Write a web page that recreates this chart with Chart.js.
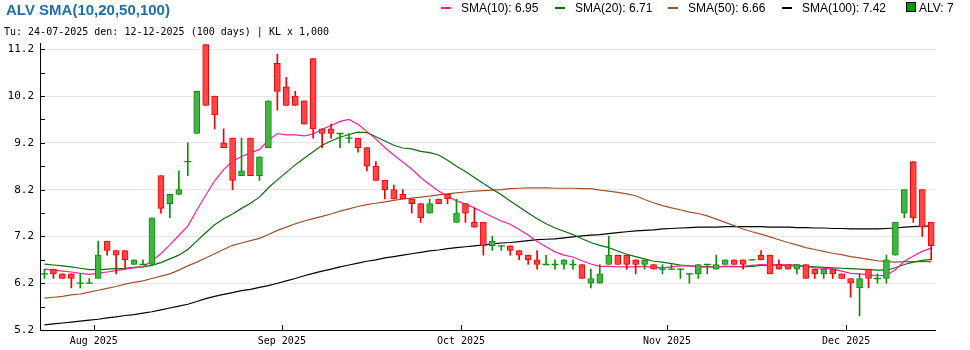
<!DOCTYPE html>
<html>
<head>
<meta charset="utf-8">
<script src="https://cdn.jsdelivr.net/npm/chart.js@4.4.1/dist/chart.umd.min.js"></script>
<style>
html,body{margin:0;padding:0;background:#fff;}
#wrap{position:relative;width:970px;height:350px;overflow:hidden;background:#fff;}
#c{position:absolute;left:0;top:0;}
#title{position:absolute;left:6px;top:2px;font:bold 15px "Liberation Sans",Arial,sans-serif;line-height:15px;color:#1e6fa8;white-space:nowrap;}
#sub{position:absolute;left:4px;top:27px;font:10px "DejaVu Sans Mono",monospace;line-height:10px;color:#000;white-space:nowrap;}
.lg{position:absolute;top:2px;font:12px "Liberation Sans",Arial,sans-serif;line-height:12px;color:#000;white-space:nowrap;}
.mk{position:absolute;}
</style>
</head>
<body>
<div id="wrap">
<canvas id="c" width="970" height="350"></canvas>
<div id="title"></div>
<div id="sub"></div>
</div>
<script>
// ---------------- data ----------------
const symbol = 'ALV';
const dates = [
'2025-07-24','2025-07-25','2025-07-28','2025-07-29','2025-07-30','2025-07-31',
'2025-08-01','2025-08-04','2025-08-05','2025-08-06','2025-08-07','2025-08-08','2025-08-11','2025-08-12','2025-08-13','2025-08-14','2025-08-15','2025-08-18','2025-08-19','2025-08-20','2025-08-21','2025-08-22','2025-08-25','2025-08-26','2025-08-27','2025-08-28','2025-08-29',
'2025-09-03','2025-09-04','2025-09-05','2025-09-08','2025-09-09','2025-09-10','2025-09-11','2025-09-12','2025-09-15','2025-09-16','2025-09-17','2025-09-18','2025-09-19','2025-09-22','2025-09-23','2025-09-24','2025-09-25','2025-09-26','2025-09-29','2025-09-30',
'2025-10-01','2025-10-02','2025-10-03','2025-10-06','2025-10-07','2025-10-08','2025-10-09','2025-10-10','2025-10-13','2025-10-14','2025-10-15','2025-10-16','2025-10-17','2025-10-20','2025-10-21','2025-10-22','2025-10-23','2025-10-24','2025-10-27','2025-10-28','2025-10-29','2025-10-30','2025-10-31',
'2025-11-03','2025-11-04','2025-11-05','2025-11-06','2025-11-07','2025-11-10','2025-11-11','2025-11-12','2025-11-13','2025-11-14','2025-11-17','2025-11-18','2025-11-19','2025-11-20','2025-11-21','2025-11-24','2025-11-25','2025-11-26','2025-11-27','2025-11-28',
'2025-12-01','2025-12-02','2025-12-03','2025-12-04','2025-12-05','2025-12-08','2025-12-09','2025-12-10','2025-12-11','2025-12-12'
];
const opens = [6.4,6.5,6.4,6.4,6.2,6.2,6.3,7.1,6.9,6.9, 6.6,6.6,6.6,8.5,7.9,8.1,8.8,9.4,11.3,10.2,
  9.2,9.3,8.5,9.3,8.5,9.1,10.9,10.4,10.2,10.1, 11.0,9.5,9.5,9.4,9.3,9.3,9.1,8.7,8.4,8.2,
  8.1,8.0,7.9,7.7,8.0,8.1,7.5,7.9,7.5,7.5, 7.0,7.0,7.0,6.9,6.8,6.7,6.6,6.6,6.6,6.6,
  6.6,6.2,6.2,6.6,6.8,6.8,6.7,6.6,6.6,6.5, 6.5,6.5,6.4,6.4,6.6,6.5,6.6,6.7,6.7,6.7,
  6.8,6.8,6.6,6.6,6.5,6.6,6.5,6.4,6.5,6.4, 6.3,6.1,6.5,6.3,6.3,6.8,7.7,8.8,8.2,7.5];
const highs = [6.5,6.5,6.4,6.4,6.4,6.3,7.1,7.1,6.9,6.9, 6.7,6.7,7.6,8.5,8.1,8.6,9.2,10.3,11.3,10.2,
  9.5,9.3,9.3,9.3,8.9,10.1,11.1,10.6,10.3,10.1, 11.0,9.5,9.6,9.4,9.4,9.3,9.1,8.8,8.4,8.3,
  8.2,8.0,7.9,8.0,8.0,8.1,8.0,7.9,7.8,7.5, 7.2,7.0,7.0,6.9,6.8,6.9,6.8,6.7,6.7,6.7,
  6.6,6.5,6.6,7.2,6.8,6.8,6.7,6.7,6.6,6.6, 6.6,6.5,6.4,6.6,6.6,6.8,6.7,6.7,6.7,6.7,
  6.9,6.8,6.7,6.6,6.6,6.6,6.5,6.5,6.5,6.4, 6.3,6.4,6.5,6.4,6.8,7.5,8.2,8.8,8.2,7.5];
const lows = [6.3,6.3,6.3,6.1,6.1,6.2,6.3,6.8,6.4,6.5, 6.6,6.6,6.6,7.7,7.6,8.1,8.5,9.4,10.0,9.5,
  9.1,8.2,8.5,8.5,8.4,9.1,9.9,10.0,10.0,9.6, 9.3,9.1,9.3,9.1,9.2,9.0,8.6,8.4,8.0,8.0,
  8.0,7.7,7.5,7.7,7.9,7.9,7.5,7.5,7.4,6.8, 6.9,6.9,6.8,6.7,6.6,6.5,6.6,6.5,6.5,6.5,
  6.3,6.1,6.2,6.6,6.6,6.5,6.4,6.5,6.5,6.4, 6.5,6.3,6.2,6.3,6.4,6.5,6.6,6.6,6.5,6.7,
  6.7,6.4,6.5,6.5,6.4,6.3,6.3,6.3,6.3,6.3, 5.9,5.5,6.1,6.2,6.2,6.8,7.6,7.5,7.2,6.7];
const closes = [6.4,6.4,6.3,6.3,6.2,6.2,6.8,6.9,6.8,6.7, 6.7,6.6,7.6,7.8,8.1,8.2,8.8,10.3,10.0,9.8,
  9.1,8.4,8.6,8.5,8.9,10.1,10.3,10.0,10.0,9.6, 9.5,9.4,9.4,9.4,9.3,9.1,8.7,8.4,8.2,8.0,
  8.0,7.9,7.6,7.9,7.9,8.0,7.7,7.7,7.4,7.0, 7.1,7.0,6.9,6.8,6.7,6.6,6.6,6.6,6.7,6.6,
  6.3,6.3,6.4,6.8,6.6,6.6,6.6,6.7,6.5,6.5, 6.5,6.5,6.4,6.6,6.6,6.6,6.7,6.6,6.6,6.7,
  6.7,6.4,6.5,6.5,6.6,6.3,6.4,6.5,6.4,6.3, 6.2,6.3,6.3,6.3,6.7,7.5,8.2,7.6,7.4,7.0];
const sma10 = [6.50,6.48,6.46,6.44,6.41,6.39,6.41,6.44,6.47,6.50, 6.53,6.55,6.68,6.83,7.02,7.22,7.42,7.76,8.08,8.39,
  8.63,8.81,8.91,8.98,9.06,9.25,9.40,9.37,9.37,9.35, 9.39,9.49,9.57,9.66,9.70,9.60,9.44,9.28,9.10,8.94,
  8.79,8.64,8.46,8.31,8.17,8.06,7.96,7.89,7.81,7.71, 7.62,7.53,7.46,7.35,7.23,7.09,6.98,6.87,6.80,6.76,
  6.68,6.61,6.56,6.56,6.55,6.55,6.55,6.56,6.54,6.53, 6.55,6.57,6.57,6.55,6.55,6.55,6.56,6.55,6.56,6.58,
  6.60,6.59,6.60,6.59,6.59,6.56,6.53,6.52,6.50,6.46, 6.41,6.40,6.38,6.36,6.37,6.49,6.67,6.78,6.88,6.95];
const sma20 = [6.61,6.59,6.57,6.55,6.52,6.49,6.49,6.50,6.51,6.52, 6.54,6.55,6.58,6.64,6.72,6.80,6.92,7.10,7.28,7.45,
  7.58,7.68,7.80,7.91,8.04,8.24,8.41,8.57,8.73,8.87, 9.01,9.15,9.24,9.32,9.38,9.43,9.42,9.33,9.24,9.15,
  9.09,9.07,9.02,8.99,8.94,8.83,8.70,8.59,8.46,8.33, 8.21,8.09,7.96,7.83,7.70,7.58,7.47,7.38,7.31,7.24,
  7.15,7.07,7.01,6.96,6.89,6.82,6.77,6.72,6.67,6.65, 6.62,6.59,6.57,6.56,6.55,6.55,6.56,6.56,6.55,6.56,
  6.58,6.58,6.59,6.57,6.57,6.56,6.55,6.54,6.53,6.52, 6.51,6.50,6.49,6.48,6.48,6.53,6.60,6.65,6.69,6.71];
const sma50 = [5.88,5.90,5.92,5.95,5.97,6.01,6.05,6.09,6.13,6.18, 6.22,6.25,6.30,6.35,6.40,6.48,6.57,6.65,6.74,6.83,
  6.92,7.01,7.06,7.11,7.16,7.24,7.33,7.40,7.47,7.53, 7.58,7.63,7.68,7.74,7.79,7.84,7.88,7.91,7.94,7.97,
  8.00,8.02,8.04,8.06,8.09,8.11,8.13,8.15,8.17,8.18, 8.19,8.20,8.22,8.23,8.24,8.24,8.24,8.23,8.23,8.23,
  8.22,8.22,8.19,8.17,8.14,8.11,8.07,7.99,7.92,7.86, 7.81,7.77,7.72,7.69,7.64,7.57,7.50,7.43,7.36,7.30,
  7.25,7.19,7.13,7.07,7.02,6.96,6.92,6.88,6.84,6.81, 6.77,6.74,6.71,6.68,6.66,6.65,6.66,6.66,6.66,6.66];
const sma100 = [5.31,5.33,5.35,5.37,5.39,5.41,5.43,5.46,5.48,5.51, 5.53,5.56,5.59,5.63,5.67,5.71,5.75,5.81,5.87,5.92,
  5.96,6.00,6.04,6.07,6.11,6.15,6.20,6.25,6.30,6.36, 6.41,6.46,6.50,6.55,6.59,6.63,6.67,6.70,6.74,6.77,
  6.80,6.83,6.86,6.89,6.91,6.94,6.96,6.98,7.00,7.02, 7.04,7.06,7.07,7.09,7.11,7.13,7.14,7.15,7.17,7.19,
  7.21,7.23,7.24,7.26,7.28,7.30,7.32,7.33,7.34,7.36, 7.37,7.38,7.39,7.40,7.40,7.40,7.41,7.41,7.41,7.41,
  7.41,7.40,7.40,7.40,7.39,7.39,7.38,7.38,7.37,7.37, 7.36,7.36,7.36,7.36,7.37,7.38,7.40,7.41,7.42,7.42];
const seriesNames = ['SMA(10)','SMA(20)','SMA(50)','SMA(100)'];
const yTickValues = [5.2,5.7,6.2,6.7,7.2,7.7,8.2,8.7,9.2,9.7,10.2,10.7,11.2];
const yLabelValues = [5.2,6.2,7.2,8.2,9.2,10.2,11.2];
const monthNames = ['Jan','Feb','Mar','Apr','May','Jun','Jul','Aug','Sep','Oct','Nov','Dec'];

// ---------------- styles ----------------
const MONO = "'DejaVu Sans Mono', monospace";
const UP_FILL = '#43b443', UP_LINE = '#0b8f0b';
const DN_FILL = '#ff4646', DN_LINE = '#f00000';
const LINE_COLORS = ['#ff1ca0', '#0d6e0d', '#a0522d', '#000000'];

// ---------------- derived ----------------
const n = closes.length;
const isUp = i => closes[i] >= opens[i];
const xTicks = [];
for (let i = 1; i < n; i++) {
  if (dates[i].slice(0, 7) !== dates[i - 1].slice(0, 7)) {
    xTicks.push({ value: i - 0.5, label: monthNames[+dates[i].slice(5, 7) - 1] + ' ' + dates[i].slice(0, 4) });
  }
}
const fmtDate = d => d.slice(8, 10) + '-' + d.slice(5, 7) + '-' + d.slice(0, 4);

document.getElementById('title').textContent = symbol + ' SMA(10,20,50,100)';
document.getElementById('sub').textContent = 'Tu: ' + fmtDate(dates[0]) + ' den: ' + fmtDate(dates[n - 1]) + ' (' + n + ' days) | KL x 1,000';

// legend
const smaSeries = [sma10, sma20, sma50, sma100];
const legendLeft = [441, 555, 668, 782];
const wrap = document.getElementById('wrap');
smaSeries.forEach((s, k) => {
  const mk = document.createElement('div');
  mk.className = 'mk';
  mk.style.cssText = 'left:' + legendLeft[k] + 'px;top:7px;width:10px;height:2px;background:' + LINE_COLORS[k];
  wrap.appendChild(mk);
  const t = document.createElement('div');
  t.className = 'lg';
  t.style.left = (legendLeft[k] + 20) + 'px';
  t.textContent = seriesNames[k] + ': ' + s[n - 1].toFixed(2);
  wrap.appendChild(t);
});
const sq = document.createElement('div');
sq.className = 'mk';
sq.style.cssText = 'left:906px;top:2px;width:8px;height:8px;background:#009a00;border:1px solid #000';
wrap.appendChild(sq);
const lt = document.createElement('div');
lt.className = 'lg';
lt.style.left = '919px';
lt.textContent = symbol + ': ' + String(closes[n - 1]);
wrap.appendChild(lt);

// ---------------- datasets ----------------
const bodyData = closes.map((c, i) => ({ x: i, y: c === opens[i] ? null : [Math.min(opens[i], c), Math.max(opens[i], c)] }));
const wickData = closes.map((c, i) => ({ x: i, y: [lows[i], highs[i]] }));
const dojiData = closes.map((c, i) => ({ x: i, y: c === opens[i] ? c : null }));

const datasets = [
  { type: 'bar', data: bodyData, grouped: false, barThickness: 6, borderWidth: 1, borderSkipped: false,
    backgroundColor: c => isUp(c.dataIndex) ? UP_FILL : DN_FILL,
    borderColor: c => isUp(c.dataIndex) ? UP_LINE : DN_LINE, order: 0 },
  { type: 'line', data: dojiData, showLine: false, pointStyle: 'line', pointRadius: 3.5, pointHoverRadius: 3.5,
    pointBorderWidth: 1.3, pointBorderColor: c => isUp(c.dataIndex) ? UP_LINE : DN_LINE, order: 0 },
  { type: 'bar', data: wickData, grouped: false, barThickness: 1, borderWidth: 0,
    backgroundColor: c => isUp(c.dataIndex) ? UP_LINE : DN_LINE, order: 1 }
];
smaSeries.forEach((s, k) => {
  datasets.push({ type: 'line', data: s.map((v, i) => ({ x: i, y: v })), borderColor: LINE_COLORS[k],
    borderWidth: 1.2, pointRadius: 0, fill: false, tension: 0, order: 2 + k });
});

const innerTicks = {
  id: 'innerTicks',
  afterDraw(chart) {
    const { ctx, chartArea: a, scales: { x, y } } = chart;
    ctx.save();
    ctx.strokeStyle = '#000';
    ctx.lineWidth = 1;
    ctx.beginPath();
    y.ticks.forEach(t => { const p = Math.round(y.getPixelForValue(t.value)) + 0.5; ctx.moveTo(a.left, p); ctx.lineTo(a.left + 5, p); });
    x.ticks.forEach(t => { const p = Math.round(x.getPixelForValue(t.value)) + 0.5; ctx.moveTo(p, a.bottom); ctx.lineTo(p, a.bottom - 5); });
    ctx.stroke();
    ctx.restore();
  }
};

const isLabelTick = v => yLabelValues.some(m => Math.abs(m - v) < 1e-6);

new Chart(document.getElementById('c'), {
  type: 'bar',
  data: { datasets },
  options: {
    responsive: false,
    devicePixelRatio: 1,
    animation: false,
    events: [],
    layout: { padding: { left: 0, right: 34.3, top: 43, bottom: 0 } },
    plugins: { legend: { display: false }, tooltip: { enabled: false }, title: { display: false } },
    scales: {
      x: {
        type: 'linear', min: -0.5, max: 99.5, offset: false,
        afterBuildTicks: s => { s.ticks = xTicks.map(t => ({ value: t.value })); },
        afterFit: s => { s.height = 20; },
        ticks: { autoSkip: false, maxRotation: 0, padding: 5, color: '#000', font: { family: MONO, size: 10 },
          callback: v => { const t = xTicks.find(q => Math.abs(q.value - v) < 1e-6); return t ? t.label : ''; } },
        grid: { drawOnChartArea: false, drawTicks: false, offset: false },
        border: { display: true, color: '#000', width: 1 }
      },
      y: {
        type: 'linear', min: 5.2, max: 11.335, position: 'left',
        afterBuildTicks: s => { s.ticks = yTickValues.map(v => ({ value: v })); },
        afterFit: s => { s.width = 40; },
        ticks: { autoSkip: false, padding: 6, color: '#000', font: { family: MONO, size: 11 },
          callback: v => isLabelTick(v) ? Number(v).toFixed(1) : '' },
        grid: { drawTicks: false, lineWidth: 1,
          color: c => (c.tick && isLabelTick(c.tick.value) && c.tick.value > 5.3) ? '#e6e6e6' : 'rgba(0,0,0,0)' },
        border: { display: true, color: '#000', width: 1 }
      }
    }
  },
  plugins: [innerTicks]
});
</script>
</body>
</html>
